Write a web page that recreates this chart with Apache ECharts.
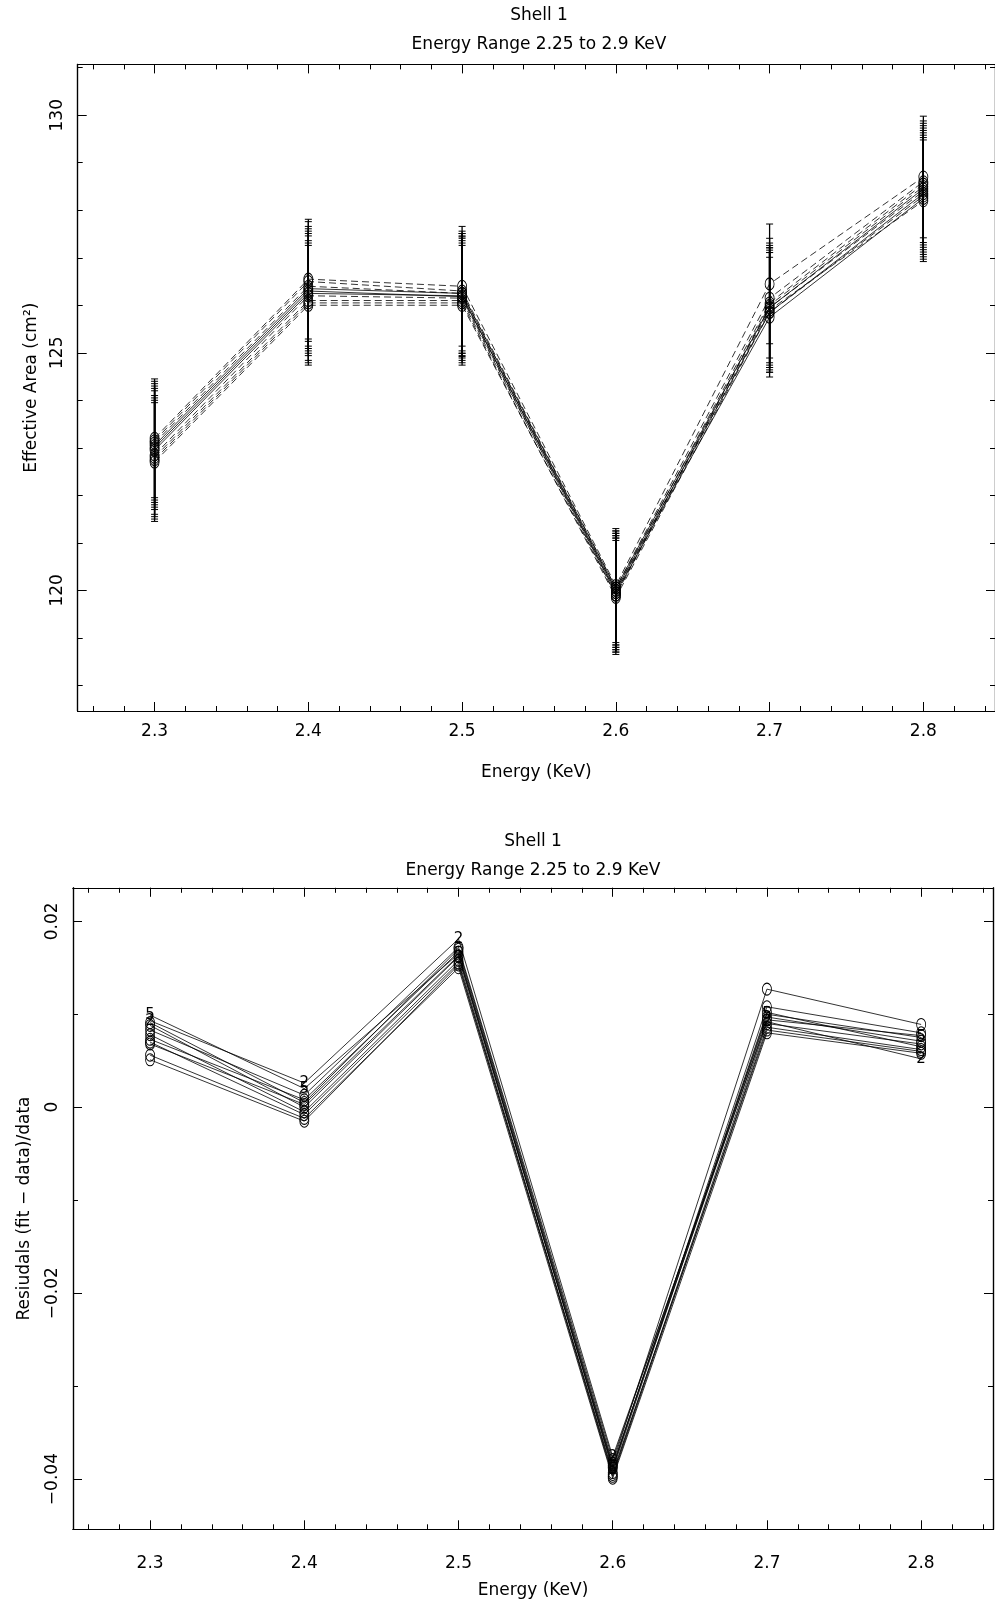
<!DOCTYPE html>
<html><head><meta charset="utf-8">
<script src="https://cdn.jsdelivr.net/npm/echarts@6/dist/echarts.min.js"></script>
<style>html,body{margin:0;padding:0;background:#fff}#c{width:995px;height:1601px}</style>
</head><body><div id="c"></div>
<script>
// ---------- data ----------
const energies = [2.3, 2.4, 2.5, 2.6, 2.7, 2.8];
const xMajorTicks = [2.3, 2.4, 2.5, 2.6, 2.7, 2.8];
const xMinorTicks = [2.26, 2.28, 2.30, 2.32, 2.34, 2.36, 2.38, 2.40, 2.42, 2.44, 2.46, 2.48, 2.50, 2.52, 2.54,
  2.56, 2.58, 2.60, 2.62, 2.64, 2.66, 2.68, 2.70, 2.72, 2.74, 2.76, 2.78, 2.80, 2.82, 2.84];
const topYMajor = [120, 125, 130];
const topYMinor = [118, 119, 120, 121, 122, 123, 124, 125, 126, 127, 128, 129, 130, 131];
const botYMajor = [-0.04, -0.02, 0, 0.02];
const botYMinor = [-0.03, -0.01, 0.01];

// Effective area, solid-line series
const areaSolid1 = [122.95, 126.25, 126.20, 119.95, 125.75, 128.25];
const areaSolid2 = [123.00, 126.30, 126.18, 120.00, 125.85, 128.35];
const areaSolid3 = [123.05, 126.35, 126.25, 120.05, 125.95, 128.45];
// Effective area, dashed-line series
const areaDash1 = [123.20, 126.55, 126.40, 120.10, 126.45, 128.70];
const areaDash2 = [123.15, 126.50, 126.30, 120.05, 126.15, 128.60];
const areaDash3 = [123.10, 126.40, 126.25, 120.00, 126.05, 128.55];
const areaDash4 = [122.85, 126.20, 126.15, 119.90, 126.00, 128.50];
const areaDash5 = [122.80, 126.10, 126.10, 119.95, 125.95, 128.40];
const areaDash6 = [122.75, 126.05, 126.05, 119.85, 125.85, 128.30];
const areaDash7 = [122.70, 126.00, 126.00, 119.90, 125.90, 128.20];
// error bar half-length at each energy
const areaErr = [1.25, 1.26, 1.26, 1.20, 1.26, 1.28];

// Residuals
const res1 = [0.0099, 0.0020, 0.0165, -0.0390, 0.0100, 0.0075];
const res2 = [0.0093, 0.0026, 0.0181, -0.0376, 0.0092, 0.0052];
const res3 = [0.0091, 0.0005, 0.0170, -0.0383, 0.0127, 0.0089];
const res4 = [0.0088, 0.0000, 0.0162, -0.0388, 0.0108, 0.0080];
const res5 = [0.0083, 0.0013, 0.0172, -0.0379, 0.0097, 0.0071];
const res6 = [0.0078, -0.0005, 0.0158, -0.0395, 0.0090, 0.0068];
const res7 = [0.0073, 0.0008, 0.0167, -0.0385, 0.0094, 0.0077];
const res8 = [0.0070, -0.0008, 0.0155, -0.0397, 0.0086, 0.0062];
const res9 = [0.0068, 0.0003, 0.0163, -0.0387, 0.0102, 0.0065];
const res10 = [0.0056, -0.0012, 0.0150, -0.0399, 0.0080, 0.0058];
const res11 = [0.0051, -0.0015, 0.0153, -0.0393, 0.0083, 0.0060];

// ---------- layout ----------
const FONT = 'DejaVu Sans';
const X_MIN = 2.25, X_MAX = 2.8466;
const grids = [
  {left: 77.7, top: 64.4, width: 920, height: 646.6},
  {left: 73, top: 887.8, width: 920, height: 641.5}
];
const yRanges = [[117.46, 131.07], [-0.0454, 0.0236]];

const fmt = v => (v === 0 ? '0' : String(v).replace('-', '\u2212'));

const xAxes = [], yAxes = [];
function addX(g, pos, ticks, len, main, name, margin, gap) {
  xAxes.push({
    type: 'value', gridIndex: g, position: pos, min: X_MIN, max: X_MAX,
    axisLine: {show: true, onZero: false, lineStyle: {color: '#000', width: 1.2}},
    axisTick: {show: true, inside: true, length: len, customValues: ticks, lineStyle: {color: '#000', width: 1}},
    axisLabel: main ? {show: true, customValues: ticks, margin: margin, color: '#000', fontFamily: FONT, fontSize: 17, formatter: v => String(v)} : {show: false},
    splitLine: {show: false}, minorTick: {show: false},
    name: name || '', nameLocation: 'middle', nameGap: gap || 0,
    nameTextStyle: {color: '#000', fontFamily: FONT, fontSize: 17}
  });
}
function addY(g, pos, ticks, len, main, name, gap) {
  yAxes.push({
    type: 'value', gridIndex: g, position: pos, min: yRanges[g][0], max: yRanges[g][1],
    axisLine: {show: true, onZero: false, lineStyle: {color: '#000', width: 1.2}},
    axisTick: {show: true, inside: true, length: len, customValues: ticks, lineStyle: {color: '#000', width: 1}},
    axisLabel: main ? {show: true, customValues: ticks, rotate: 90, margin: 12, color: '#000', fontFamily: FONT, fontSize: 17, formatter: fmt} : {show: false},
    splitLine: {show: false}, minorTick: {show: false},
    name: name || '', nameLocation: 'middle', nameGap: gap || 0, nameRotate: 90,
    nameTextStyle: {color: '#000', fontFamily: FONT, fontSize: 17}
  });
}
// grid 0 axes (x indices 0..3, y indices 0..3)
addX(0, 'bottom', xMajorTicks, 9, true, 'Energy (KeV)', 12, 53);
addX(0, 'bottom', xMinorTicks, 5, false);
addX(0, 'top', xMajorTicks, 9, false);
addX(0, 'top', xMinorTicks, 5, false);
addY(0, 'left', topYMajor, 9, true, 'Effective Area (cm\u00B2)', 38);
addY(0, 'left', topYMinor, 5, false);
addY(0, 'right', topYMajor, 9, false);
addY(0, 'right', topYMinor, 5, false);
// grid 1 axes (x indices 4..7, y indices 4..7)
addX(1, 'bottom', xMajorTicks, 9, true, 'Energy (KeV)', 26, 53);
addX(1, 'bottom', xMinorTicks, 5, false);
addX(1, 'top', xMajorTicks, 9, false);
addX(1, 'top', xMinorTicks, 5, false);
addY(1, 'left', botYMajor, 9, true, 'Resiudals (fit \u2212 data)/data', 40);
addY(1, 'left', botYMinor, 5, false);
addY(1, 'right', botYMajor, 9, false);
addY(1, 'right', botYMinor, 5, false);

const circleStyle = {color: 'rgba(0,0,0,0)', borderColor: '#000', borderWidth: 0.9};
const series = [];
const areaSets = [
  [areaSolid1, 'solid'], [areaSolid2, 'solid'], [areaSolid3, 'solid'],
  [areaDash1, 'dashed'], [areaDash2, 'dashed'], [areaDash3, 'dashed'], [areaDash4, 'dashed'],
  [areaDash5, 'dashed'], [areaDash6, 'dashed'], [areaDash7, 'dashed']
];
const errData = [];
areaSets.forEach(([vals, style]) => {
  series.push({
    type: 'line', xAxisIndex: 0, yAxisIndex: 0, silent: true, animation: false, z: 3,
    data: energies.map((e, i) => [e, vals[i]]),
    symbol: 'circle', symbolSize: [9, 12],
    itemStyle: circleStyle,
    lineStyle: {color: '#000', width: 0.8, type: style === 'dashed' ? [7, 4] : 'solid'}
  });
  energies.forEach((e, i) => errData.push([e, vals[i], areaErr[i]]));
});
series.push({
  type: 'custom', xAxisIndex: 0, yAxisIndex: 0, silent: true, animation: false, z: 2,
  data: errData,
  renderItem(params, api) {
    const x = api.value(0), y = api.value(1), e = api.value(2);
    const t = api.coord([x, y + e]), b = api.coord([x, y - e]);
    const w = 3.5;
    return {type: 'group', children: [
      {type: 'line', shape: {x1: t[0], y1: t[1], x2: b[0], y2: b[1]}, style: {stroke: '#000', lineWidth: 1.3}},
      {type: 'line', shape: {x1: t[0] - w, y1: t[1], x2: t[0] + w, y2: t[1]}, style: {stroke: '#000', lineWidth: 1}},
      {type: 'line', shape: {x1: b[0] - w, y1: b[1], x2: b[0] + w, y2: b[1]}, style: {stroke: '#000', lineWidth: 1}}
    ]};
  }
});

const resSets = [
  [res1, '5'], [res2, '2'], [res3, 'o'], [res4, 'o'], [res5, 'o'], [res6, 'o'],
  [res7, 'o'], [res8, 'o'], [res9, 'o'], [res10, 'o'], [res11, 'o']
];
resSets.forEach(([vals, mk]) => {
  const isCircle = mk === 'o';
  series.push({
    type: 'line', xAxisIndex: 4, yAxisIndex: 4, silent: true, animation: false,
    data: energies.map((e, i) => [e, vals[i]]),
    symbol: 'circle',
    symbolSize: isCircle ? [9, 12] : 1,
    itemStyle: isCircle ? circleStyle : {color: 'rgba(0,0,0,0)'},
    label: isCircle ? {show: false} : {show: true, position: 'inside', formatter: mk, color: '#000', fontFamily: FONT, fontSize: 15},
    lineStyle: {color: '#000', width: 0.8}
  });
});

const TF = '17px "DejaVu Sans"';
const chart = echarts.init(document.getElementById('c'), null, {renderer: 'canvas'});
chart.setOption({
  animation: false,
  backgroundColor: '#fff',
  grid: grids,
  xAxis: xAxes,
  yAxis: yAxes,
  graphic: [
    {type: 'text', x: 539, y: 16, style: {text: 'Shell 1', align: 'center', verticalAlign: 'middle', font: TF, fill: '#000'}},
    {type: 'text', x: 539, y: 45, style: {text: 'Energy Range 2.25 to 2.9 KeV', align: 'center', verticalAlign: 'middle', font: TF, fill: '#000'}},
    {type: 'text', x: 533, y: 842, style: {text: 'Shell 1', align: 'center', verticalAlign: 'middle', font: TF, fill: '#000'}},
    {type: 'text', x: 533, y: 871, style: {text: 'Energy Range 2.25 to 2.9 KeV', align: 'center', verticalAlign: 'middle', font: TF, fill: '#000'}}
  ],
  series: series
});
</script>
</body></html>
